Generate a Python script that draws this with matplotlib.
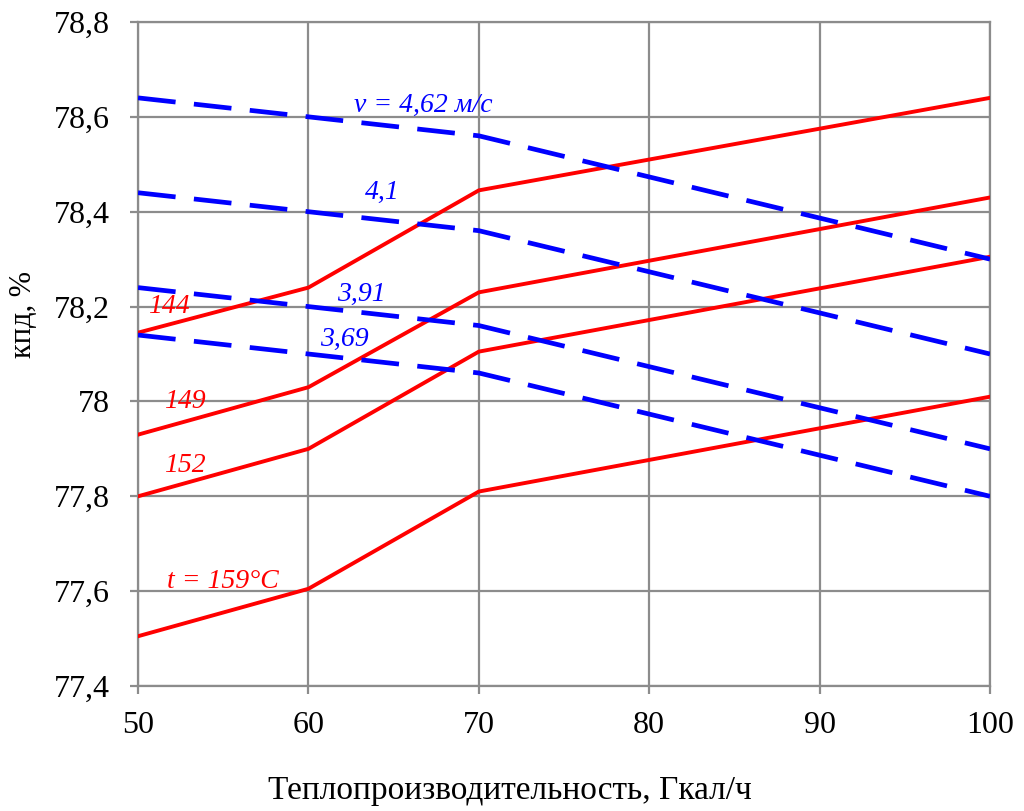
import matplotlib
matplotlib.use("Agg")
import matplotlib.pyplot as plt
from matplotlib.ticker import FuncFormatter, MultipleLocator

x = [50, 60, 70, 100]

# red solid: temperature curves
t_labels = ["144", "149", "152", "t = 159°C"]
t144 = [78.145, 78.24, 78.445, 78.64]
t149 = [77.93, 78.03, 78.23, 78.43]
t152 = [77.80, 77.90, 78.105, 78.305]
t159 = [77.505, 77.605, 77.81, 78.01]

# blue dashed: velocity curves
v_labels = ["v = 4,62 м/с", "4,1", "3,91", "3,69"]
v462 = [78.64, 78.60, 78.56, 78.30]
v41 = [78.44, 78.40, 78.36, 78.10]
v391 = [78.24, 78.20, 78.16, 77.90]
v369 = [78.14, 78.10, 78.06, 77.80]

plt.rcParams['font.family'] = ['Liberation Serif', 'DejaVu Serif']

fig = plt.figure(figsize=(10.24, 8.11), dpi=100)
ax = fig.add_axes([0.1348, 0.1541, 0.832, 0.8188])

grid_c = '#8c8c8c'
for ys in [t144, t149, t152, t159]:
    ax.plot(x, ys, color='#ff0000', lw=2.8, solid_joinstyle='round', zorder=3)
for ys in [v462, v41, v391, v369]:
    ax.plot(x, ys, color='#0000ff', lw=3.4, dashes=(8, 3.9), zorder=3)

ax.set_xlim(50, 100)
ax.set_ylim(77.4, 78.8)
ax.xaxis.set_major_locator(MultipleLocator(10))
ax.yaxis.set_major_locator(MultipleLocator(0.2))

def fmt(v, pos):
    s = f"{v:.1f}"
    if s.endswith(".0"):
        s = s[:-2]
    return s.replace(".", ",")
ax.yaxis.set_major_formatter(FuncFormatter(fmt))

ax.grid(True, color=grid_c, lw=1.6, zorder=0)
ax.set_axisbelow(True)
for s in ax.spines.values():
    s.set_color(grid_c)
    s.set_linewidth(1.6)
ax.tick_params(axis='both', colors=grid_c, length=6, width=1.6, labelsize=23,
               labelcolor='black', direction='out')
ax.tick_params(axis='x', pad=12)
ax.tick_params(axis='y', pad=14)

ax.set_xlabel("Теплопроизводительность, Гкал/ч", fontsize=24, labelpad=22)
ax.xaxis.set_label_coords(0.437, -0.135)
ax.set_ylabel("кпд, %", fontsize=22)
ax.yaxis.set_label_coords(-0.117, 0.559)

tkw = dict(color='#ff0000', fontsize=20, style='italic', va='center', ha='left')
ax.text(50.6, 78.2, t_labels[0], **tkw)
ax.text(51.5, 78.0, t_labels[1], **tkw)
ax.text(51.5, 77.865, t_labels[2], **tkw)
ax.text(51.7, 77.62, t_labels[3], **tkw)

vkw = dict(color='#0000ff', fontsize=20, style='italic', va='center', ha='left')
ax.text(62.7, 78.625, v_labels[0], **vkw)
ax.text(63.3, 78.44, v_labels[1], **vkw)
ax.text(61.7, 78.225, v_labels[2], **vkw)
ax.text(60.7, 78.13, v_labels[3], **vkw)

fig.savefig("out.png", dpi=100)
